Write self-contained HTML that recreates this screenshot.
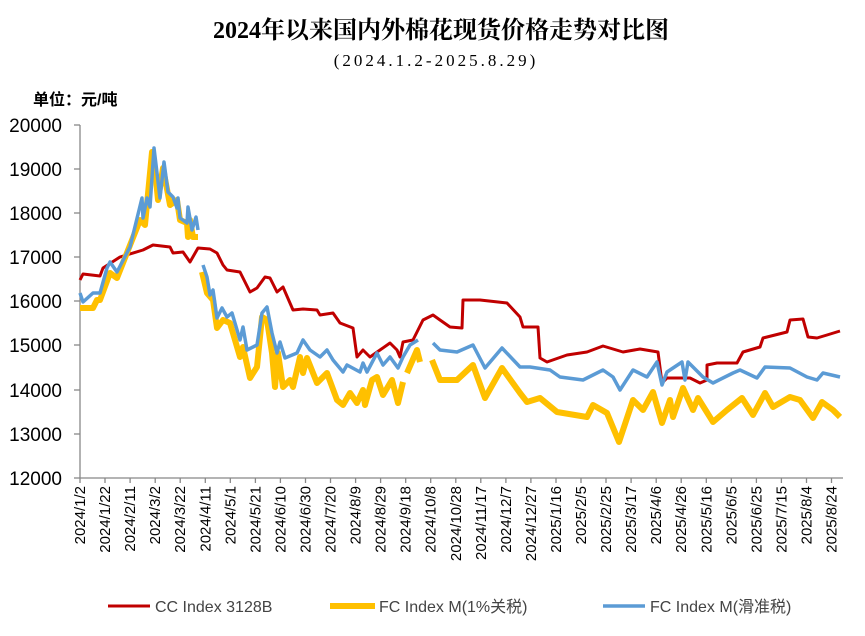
<!DOCTYPE html>
<html><head><meta charset="utf-8"><style>body{margin:0;background:#fff}svg{display:block}</style></head><body>
<svg width="865" height="636" xmlns="http://www.w3.org/2000/svg">
<text x="441" y="38" text-anchor="middle" font-family="Liberation Serif,'Noto Serif CJK SC',serif" font-size="24" font-weight="bold">2024年以来国内外棉花现货价格走势对比图</text>
<text x="436" y="66" text-anchor="middle" font-family="Liberation Serif,'Noto Serif CJK SC',serif" font-size="17" letter-spacing="3">(2024.1.2-2025.8.29)</text>
<text x="33" y="105" font-family="Liberation Sans,'Noto Sans CJK SC',sans-serif" font-size="16" font-weight="bold">单位：元/吨</text>
<g font-family="Liberation Sans,sans-serif" font-size="19" text-anchor="end" fill="#000">
<text x="62" y="132">20000</text><text x="62" y="176">19000</text><text x="62" y="220">18000</text><text x="62" y="264">17000</text><text x="62" y="308">16000</text><text x="62" y="352">15000</text><text x="62" y="397">14000</text><text x="62" y="441">13000</text><text x="62" y="485">12000</text>
</g>
<g stroke="#888" stroke-width="1.3">
<line x1="80" y1="125" x2="80" y2="478"/><line x1="80" y1="478" x2="843" y2="478"/>
<line x1="74" y1="125" x2="80" y2="125"/><line x1="74" y1="169" x2="80" y2="169"/><line x1="74" y1="213" x2="80" y2="213"/><line x1="74" y1="257" x2="80" y2="257"/><line x1="74" y1="301" x2="80" y2="301"/><line x1="74" y1="345" x2="80" y2="345"/><line x1="74" y1="390" x2="80" y2="390"/><line x1="74" y1="434" x2="80" y2="434"/><line x1="74" y1="478" x2="80" y2="478"/>
</g>
<g stroke="#888" stroke-width="1.3">
<line x1="80" y1="478" x2="80" y2="483"/><line x1="105" y1="478" x2="105" y2="483"/><line x1="130.1" y1="478" x2="130.1" y2="483"/><line x1="155.2" y1="478" x2="155.2" y2="483"/><line x1="180.2" y1="478" x2="180.2" y2="483"/><line x1="205.3" y1="478" x2="205.3" y2="483"/><line x1="230.3" y1="478" x2="230.3" y2="483"/><line x1="255.4" y1="478" x2="255.4" y2="483"/><line x1="280.4" y1="478" x2="280.4" y2="483"/><line x1="305.5" y1="478" x2="305.5" y2="483"/><line x1="330.5" y1="478" x2="330.5" y2="483"/><line x1="355.6" y1="478" x2="355.6" y2="483"/><line x1="380.6" y1="478" x2="380.6" y2="483"/><line x1="405.7" y1="478" x2="405.7" y2="483"/><line x1="430.7" y1="478" x2="430.7" y2="483"/><line x1="455.8" y1="478" x2="455.8" y2="483"/><line x1="480.8" y1="478" x2="480.8" y2="483"/><line x1="505.9" y1="478" x2="505.9" y2="483"/><line x1="530.9" y1="478" x2="530.9" y2="483"/><line x1="556" y1="478" x2="556" y2="483"/><line x1="581" y1="478" x2="581" y2="483"/><line x1="606" y1="478" x2="606" y2="483"/><line x1="631.1" y1="478" x2="631.1" y2="483"/><line x1="656.2" y1="478" x2="656.2" y2="483"/><line x1="681.2" y1="478" x2="681.2" y2="483"/><line x1="706.3" y1="478" x2="706.3" y2="483"/><line x1="731.3" y1="478" x2="731.3" y2="483"/><line x1="756.4" y1="478" x2="756.4" y2="483"/><line x1="781.4" y1="478" x2="781.4" y2="483"/><line x1="806.5" y1="478" x2="806.5" y2="483"/><line x1="831.5" y1="478" x2="831.5" y2="483"/>
</g>
<g font-family="Liberation Sans,sans-serif" font-size="15" text-anchor="end">
<text transform="translate(85,486) rotate(-90)">2024/1/2</text>
<text transform="translate(110,486) rotate(-90)">2024/1/22</text>
<text transform="translate(135.1,486) rotate(-90)">2024/2/11</text>
<text transform="translate(160.2,486) rotate(-90)">2024/3/2</text>
<text transform="translate(185.2,486) rotate(-90)">2024/3/22</text>
<text transform="translate(210.3,486) rotate(-90)">2024/4/11</text>
<text transform="translate(235.3,486) rotate(-90)">2024/5/1</text>
<text transform="translate(260.4,486) rotate(-90)">2024/5/21</text>
<text transform="translate(285.4,486) rotate(-90)">2024/6/10</text>
<text transform="translate(310.5,486) rotate(-90)">2024/6/30</text>
<text transform="translate(335.5,486) rotate(-90)">2024/7/20</text>
<text transform="translate(360.6,486) rotate(-90)">2024/8/9</text>
<text transform="translate(385.6,486) rotate(-90)">2024/8/29</text>
<text transform="translate(410.7,486) rotate(-90)">2024/9/18</text>
<text transform="translate(435.7,486) rotate(-90)">2024/10/8</text>
<text transform="translate(460.8,486) rotate(-90)">2024/10/28</text>
<text transform="translate(485.8,486) rotate(-90)">2024/11/17</text>
<text transform="translate(510.9,486) rotate(-90)">2024/12/7</text>
<text transform="translate(535.9,486) rotate(-90)">2024/12/27</text>
<text transform="translate(561,486) rotate(-90)">2025/1/16</text>
<text transform="translate(586,486) rotate(-90)">2025/2/5</text>
<text transform="translate(611.1,486) rotate(-90)">2025/2/25</text>
<text transform="translate(636.1,486) rotate(-90)">2025/3/17</text>
<text transform="translate(661.2,486) rotate(-90)">2025/4/6</text>
<text transform="translate(686.2,486) rotate(-90)">2025/4/26</text>
<text transform="translate(711.3,486) rotate(-90)">2025/5/16</text>
<text transform="translate(736.3,486) rotate(-90)">2025/6/5</text>
<text transform="translate(761.4,486) rotate(-90)">2025/6/25</text>
<text transform="translate(786.4,486) rotate(-90)">2025/7/15</text>
<text transform="translate(811.5,486) rotate(-90)">2025/8/4</text>
<text transform="translate(836.5,486) rotate(-90)">2025/8/24</text>
</g>
<polyline fill="none" stroke="#c00000" stroke-width="3" stroke-linejoin="round" points="80,280 83,274 100,276 103,268 120,257 143,250 153,245 170,247 173,253 183,252 190,262 198,248 210,249 217,253 223,265 227,270 240,272 250,292 257,288 265,277 270,278 277,292 283,287 293,310 303,309 317,310 320,315 333,313 340,323 353,328 357,357 363,350 370,357 380,350 390,343 397,350 400,357 403,342 413,340 423,320 433,315 440,320 450,327 462,328 463,300 480,300 507,303 520,317 523,327 538,327 540,358 547,362 567,355 587,352 603,346 623,352 640,349 658,352 662,383 667,378 680,378 690,378 700,383 707,380 707,365 717,363 737,363 743,352 760,347 763,338 787,332 790,320 803,319 808,337 817,338 827,335 840,331"/>
<g fill="none" stroke="#ffc000" stroke-width="6" stroke-linejoin="round">
<polyline points="80,308 93,308 97,300 100,300 110,273 117,278 140,220 145,225 152,152 155,170 158,200 163,168 170,205 177,200 180,220 187,223 188,237 190,220 193,237 198,237"/>
<polyline points="202,272 207,293 213,300 217,328 223,320 230,323 240,357 243,347 250,378 257,367 262,317 267,320 272,353 275,387 278,353 283,387 290,380 293,387 300,357 303,373 307,358 317,383 327,373 337,400 343,405 350,393 357,403 363,390 365,405 372,380 377,377 383,395 392,380 398,403 403,382"/>
<polyline points="407,373 417,350 420,362"/>
<polyline points="432,360 440,380 457,380 473,365 485,398 502,368 520,393 527,402 540,398 557,412 587,417 593,405 607,413 619,442 633,400 643,410 653,392 662,423 670,400 673,417 683,388 693,410 698,398 713,422 727,410 742,398 753,415 765,393 773,407 790,397 800,400 813,418 822,402 833,410 840,417"/>
</g>
<g fill="none" stroke="#5b9bd5" stroke-width="3.5" stroke-linejoin="round">
<polyline points="80,293 83,302 93,293 100,293 107,268 110,262 117,272 130,247 142,198 143,218 147,198 150,207 154,148 160,198 164,162 168,192 173,197 177,208 178,198 180,218 187,223 188,207 192,230 196,217 198,230"/>
<polyline points="203,265 207,277 210,295 213,290 217,318 222,308 227,317 232,313 240,340 243,327 247,350 257,345 262,313 267,307 272,333 277,353 280,342 285,358 297,353 303,340 310,350 320,357 327,350 333,360 343,372 347,365 360,372 363,363 367,372 377,353 383,365 390,357 398,368 403,357 410,345 418,340"/>
<polyline points="433,343 440,350 457,352 473,345 485,368 502,348 520,367 530,367 550,370 560,377 583,380 603,370 613,377 620,390 633,370 647,377 657,362 662,385 667,372 682,362 685,380 688,362 703,377 713,383 733,373 740,370 757,378 765,367 790,368 807,377 817,380 823,373 840,377"/>
</g>
<line x1="108" y1="606" x2="150" y2="606" stroke="#c00000" stroke-width="3"/>
<line x1="330" y1="606" x2="375" y2="606" stroke="#ffc000" stroke-width="6"/>
<line x1="603" y1="606" x2="645" y2="606" stroke="#5b9bd5" stroke-width="3.5"/>
<g font-family="Liberation Sans,'Noto Sans CJK SC',sans-serif" font-size="16" fill="#444">
<text x="155" y="612">CC Index 3128B</text><text x="379" y="612">FC Index M(1%关税)</text><text x="650" y="612">FC Index M(滑准税)</text>
</g>
</svg>
</body></html>
